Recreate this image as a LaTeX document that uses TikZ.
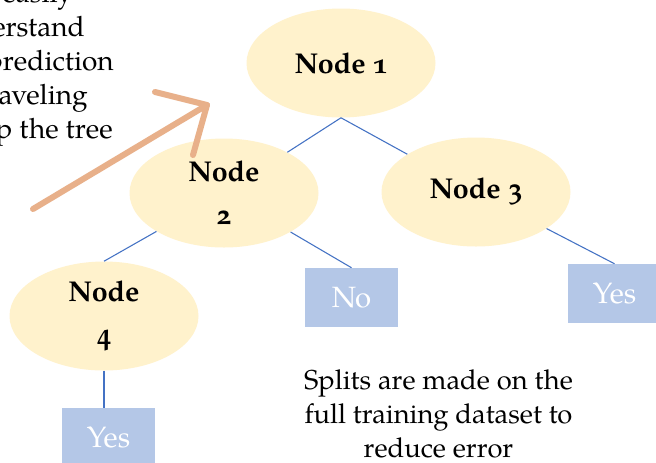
\documentclass[tikz,border=0pt]{standalone}
\usepackage{fontspec}
\setmainfont{texgyrepagella}[Extension=.otf, UprightFont=*-regular, BoldFont=*-bold, ItalicFont=*-italic, BoldItalicFont=*-bolditalic, Numbers=OldStyle]
\usetikzlibrary{shapes.geometric}
\definecolor{nodefill}{HTML}{FFF2CC}
\definecolor{leaffill}{HTML}{B4C7E7}
\definecolor{edgeblue}{HTML}{4472C4}
\definecolor{arrowtan}{HTML}{E8B08A}
\tikzset{
  treenode/.style={ellipse, fill=nodefill, minimum width=141.75pt, minimum height=81.75pt, inner sep=0pt, align=center, font=\fontsize{21.5}{31.5}\selectfont\bfseries},
  leafbox/.style={rectangle, fill=leaffill, minimum width=69.75pt, minimum height=44.25pt, inner sep=0pt, text=white, font=\fontsize{22}{26}\selectfont},
  edge/.style={draw=edgeblue, line width=0.8pt},
  hint/.style={draw=arrowtan, line width=4.5pt, line cap=round},
  sidetext/.style={inner sep=0pt, anchor=base east, font=\fontsize{21}{25.5}\selectfont},
}
\begin{document}
\begin{tikzpicture}[x=0.75pt, y=-0.75pt]
\path[use as bounding box, clip] (0,0) rectangle (656,462);
\fill[white] (0,0) rectangle (656,462);

% tree nodes
\node[treenode] (n1) at (341,63) {Node 1};
\node[treenode] (n2) at (224,193) {Node\\[1pt]2};
\node[treenode] (n3) at (476,192) {Node 3};
\node[treenode] (n4) at (104,316) {Node\\[1pt]4};

% leaves
\node[leafbox] (no) at (351.5,297.5) {No};
\node[leafbox] (yes3) at (614.5,293.5) {Yes};
\node[leafbox] (yes4) at (108.5,437.5) {Yes};

% edges
\draw[edge] (n1.south) -- (n2);
\draw[edge] (n1.south) -- (n3);
\draw[edge] (n2) -- (n4.north);
\draw[edge] (n2) -- (no.north);
\draw[edge] (n3) -- (yes3.north);
\draw[edge] (n4.south) -- (n4.south |- yes4.north);

% hint arrow
\coordinate (atail) at (33,209);
\coordinate (atip) at (207,105);
\coordinate (abarbA) at (155,92);
\coordinate (abarbB) at (193,155);
\draw[hint] (atail) -- (atip);
\draw[hint, line join=round] (abarbA) -- (atip) -- (abarbB);

% left text (cut by the picture edge, as in the reference)
\node[sidetext] (t1) at (73,2) {for easily};
\node[sidetext] (t2) at (85,36) {understand};
\node[sidetext] (t3) at (114,70) {the prediction};
\node[sidetext] (t4) at (88,104) {by traveling};
\node[sidetext] (t5) at (113,138) {up the tree};

% bottom text
\node[inner sep=0pt, anchor=north, align=center, font=\fontsize{20.5}{25.5}\selectfont] (splits) at (438.5,369) {Splits are made on the\\full training dataset to\\reduce error};
\end{tikzpicture}
\end{document}
